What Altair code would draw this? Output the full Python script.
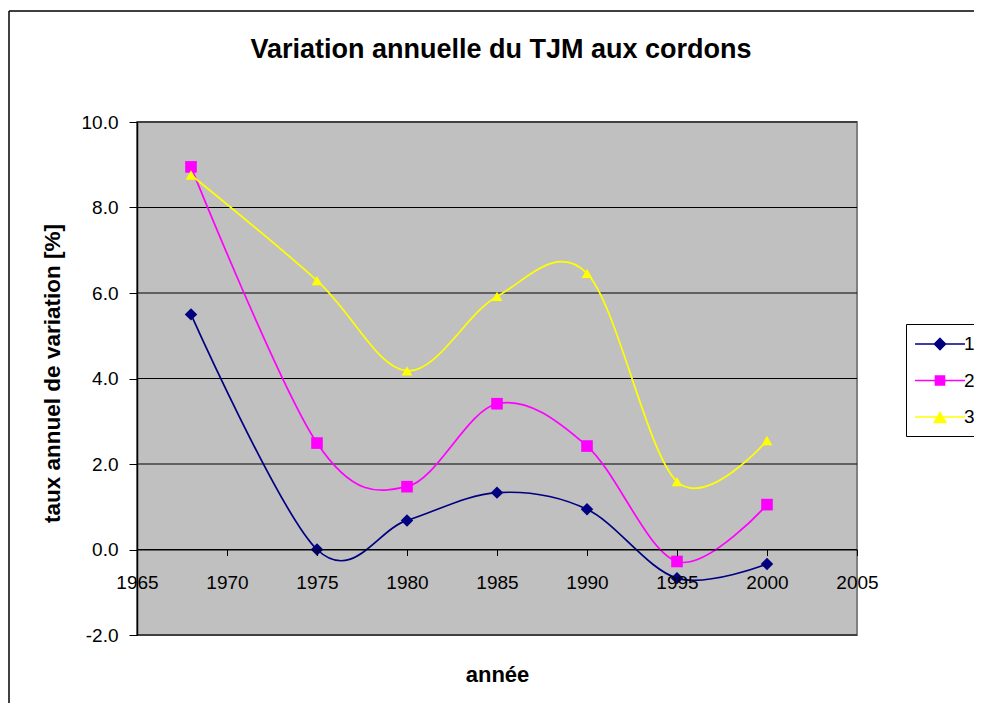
import altair as alt
import pandas as pd

# ---- data ----
years = [1968, 1975, 1980, 1985, 1990, 1995, 2000]
serie_1 = [5.50, 0.00, 0.68, 1.33, 0.94, -0.67, -0.34]
serie_2 = [8.95, 2.49, 1.47, 3.41, 2.42, -0.28, 1.05]
serie_3 = [8.76, 6.29, 4.18, 5.92, 6.46, 1.59, 2.55]
series_names = ["1", "2", "3"]
colors = ["#000080", "#FF00FF", "#FFFF00"]
markers = ["diamond", "square", "triangle-up"]
marker_sizes = [155, 115, 170]
legend_paths = [
    "M-2.5,0H2.5M0,-0.55L0.55,0L0,0.55L-0.55,0Z",
    "M-2.5,0H2.5M-0.45,-0.45H0.45V0.45H-0.45Z",
    "M-2.5,0H2.5M0,-0.45L0.58,0.55L-0.58,0.55Z",
]
x_ticks = [1965, 1970, 1975, 1980, 1985, 1990, 1995, 2000, 2005]
y_ticks = [-2, 0, 2, 4, 6, 8, 10]
chart_title = "Variation annuelle du TJM aux cordons"

rows = []
for name, vals in zip(series_names, [serie_1, serie_2, serie_3]):
    for yr, v in zip(years, vals):
        rows.append({"annee": yr, "taux": v, "serie": name})
df = pd.DataFrame(rows)
grid_df = pd.DataFrame({"taux": y_ticks})

FONT = "Liberation Sans"
PLOT_W, PLOT_H = 720, 513

x_enc = alt.X(
    "annee:Q",
    scale=alt.Scale(domain=[1965, 2005], nice=False, zero=False),
    axis=alt.Axis(
        values=x_ticks, format="d", offset=-85.5, grid=False, zindex=1,
        tickSize=6, tickColor="black", domainColor="black", domainWidth=1,
        labelPadding=18, labelFlush=False, labelOverlap=False, labelBound=False,
        labelFontSize=19, labelFont=FONT, labelColor="black",
        title="année", titleFont=FONT, titleFontSize=22, titleFontWeight="bold",
        titleColor="black", titleY=132, titleBaseline="alphabetic",
    ),
)
y_enc = alt.Y(
    "taux:Q",
    scale=alt.Scale(domain=[-2, 10], nice=False, zero=False),
    axis=alt.Axis(
        values=y_ticks, format=".1f", grid=False, zindex=1,
        labelExpr="replace(datum.label, '\u2212', '-')",
        tickSize=8, tickColor="black", domainColor="black", domainWidth=1.5,
        labelPadding=11, labelFontSize=19, labelFont=FONT, labelColor="black",
        title="taux annuel de variation [%]", titleFont=FONT, titleFontSize=22.5,
        titleFontWeight="bold", titleColor="black",
        titleX=-78, titleY=251, titleBaseline="alphabetic",
    ),
)

color_enc = alt.Color("serie:N", scale=alt.Scale(domain=series_names, range=colors), legend=None)

# plot-area background
plot_bg = alt.Chart(alt.Data(values=[{"k": 0}])).mark_rect(
    fill="#C0C0C0", stroke="#808080", strokeWidth=2
).encode(x=alt.value(0), x2=alt.value(PLOT_W), y=alt.value(0), y2=alt.value(PLOT_H))

# horizontal gridlines at the y tick values
grid = alt.Chart(grid_df).mark_rule(color="black", strokeWidth=1).encode(y=y_enc)

lines = alt.Chart(df).mark_line(interpolate="cardinal", strokeWidth=1.7).encode(
    x=x_enc, y=y_enc, color=color_enc
)

points = alt.Chart(df).mark_point(filled=True, opacity=1).encode(
    x=x_enc, y=y_enc, color=color_enc,
    shape=alt.Shape("serie:N", scale=alt.Scale(domain=series_names, range=markers), legend=None),
    size=alt.Size("serie:N", scale=alt.Scale(domain=series_names, range=marker_sizes), legend=None),
)

leg = alt.Legend(
    title=None, orient="none", legendX=769, legendY=202,
    fillColor="white", strokeColor="black", padding=9, rowPadding=15.5,
    symbolSize=400, symbolStrokeWidth=1.6, symbolOffset=14,
    symbolFillColor="black", symbolStrokeColor="black",
    labelOffset=13, labelFontSize=19, labelFont=FONT, labelColor="black",
)

legend_layer = alt.Chart(df).mark_point(filled=True, opacity=1).encode(
    fill=alt.Fill("serie:N", scale=alt.Scale(domain=series_names, range=colors), legend=leg),
    stroke=alt.Stroke("serie:N", scale=alt.Scale(domain=series_names, range=colors), legend=leg),
    shape=alt.Shape("serie:N", scale=alt.Scale(domain=series_names, range=legend_paths), legend=leg),
).transform_filter("false")

frame_top = alt.Chart(alt.Data(values=[{"k": 0}])).mark_rule(
    stroke="black", strokeWidth=1.5
).encode(x=alt.value(-128), x2=alt.value(1200), y=alt.value(-111))

frame_left = alt.Chart(alt.Data(values=[{"k": 0}])).mark_rule(
    stroke="black", strokeWidth=1.5
).encode(x=alt.value(-128), y=alt.value(-111), y2=alt.value(1200))

title_text = alt.Chart(alt.Data(values=[{"t": chart_title}])).mark_text(
    font=FONT, fontSize=27, fontWeight="bold", color="black",
    align="center", baseline="alphabetic",
).encode(
    text="t:N", x=alt.value(364), y=alt.value(-64)
)

chart = alt.layer(
    frame_top, frame_left, plot_bg, grid, lines, points, legend_layer, title_text
).resolve_scale(
    shape="independent", fill="independent", stroke="independent"
).properties(
    width=PLOT_W, height=PLOT_H,
    background="white",
    autosize=alt.AutoSizeParams(type="none"),
    padding={"left": 129, "top": 114, "right": 117, "bottom": 68},
).configure_view(
    strokeWidth=0
)

chart.save("out.html", embed_options={"renderer": "svg", "actions": False})
